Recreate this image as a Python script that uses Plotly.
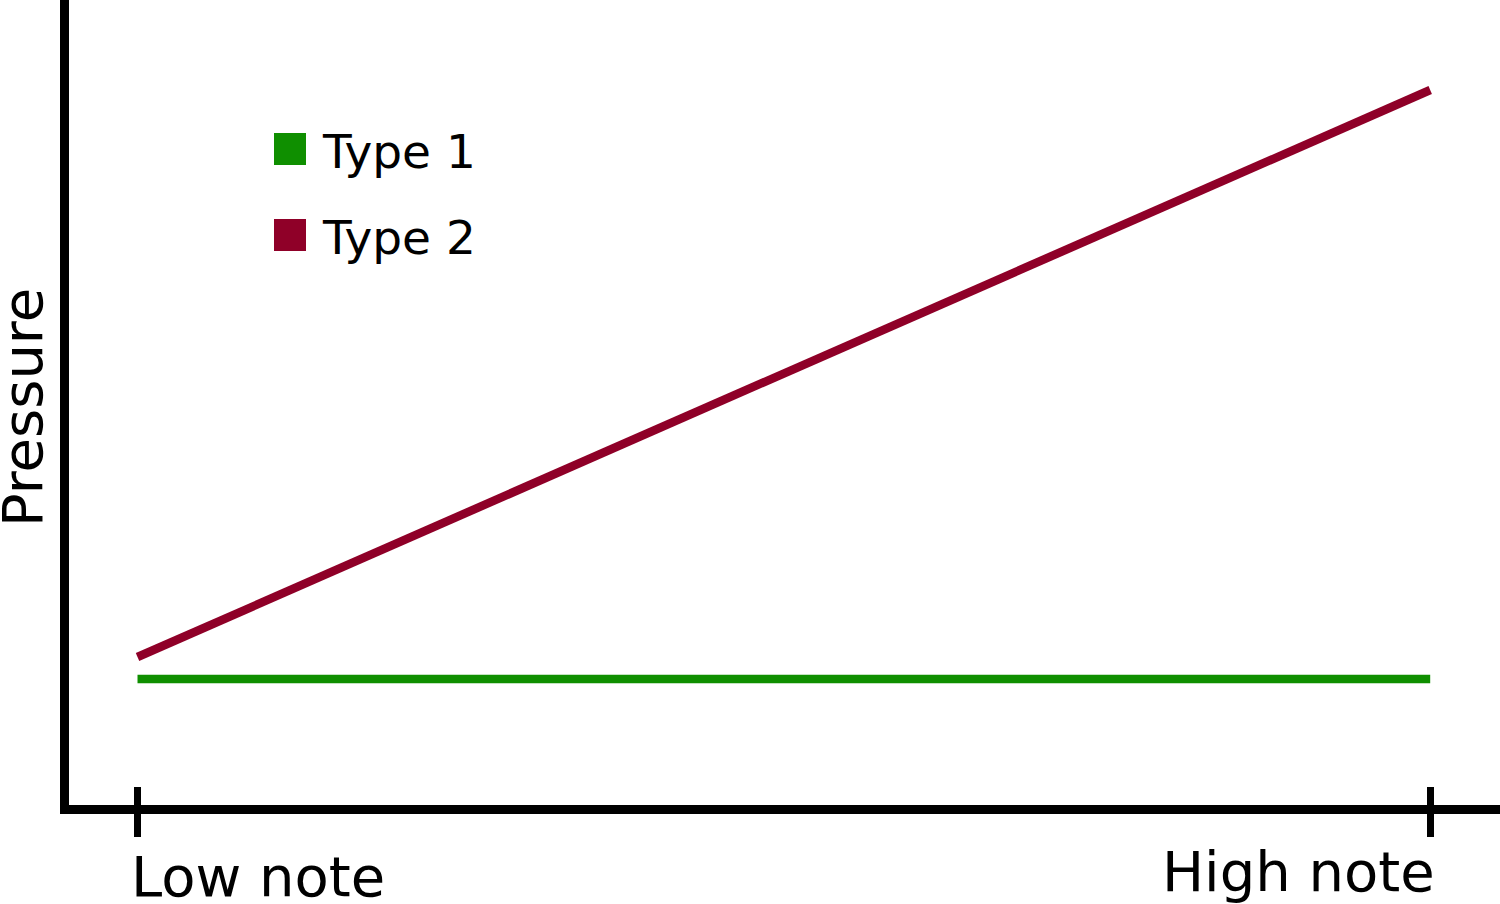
import plotly.graph_objects as go

# data
notes = ["Low note", "High note"]
note_pos = [0, 1]
series_names = ["Type 1", "Type 2"]
type1_pressure = [1.26, 1.26]
type2_pressure = [1.48, 7.15]
series_colors = ["#0f8f00", "#8f0028"]

W, H = 1500, 904
ML, MB = 69, 99
PW, PH = W - ML, H - MB
FONT = "DejaVu Sans"


def px_x(p):
    return (p - ML) / PW


def px_y(p):
    return (PH - p) / PH


fig = go.Figure()
# type 1 sits on the overlay axis so that axis (and its inner ticks) gets drawn
for name, vals, col, xa in zip(series_names, [type1_pressure, type2_pressure], series_colors, ["x2", "x"]):
    fig.add_trace(go.Scatter(x=note_pos, y=vals, mode="lines", name=name, xaxis=xa,
                             line=dict(color=col, width=8.5), showlegend=False))

# legend drawn by hand: big square swatches
for i, (name, col) in enumerate(zip(series_names, series_colors)):
    cy = 149 + 86 * i
    fig.add_shape(type="rect", xref="paper", yref="paper",
                  x0=px_x(274), x1=px_x(306), y0=px_y(cy - 16), y1=px_y(cy + 16),
                  fillcolor=col, line=dict(width=0))
    fig.add_annotation(text=name, xref="paper", yref="paper", x=px_x(320), y=px_y(cy + 3),
                       xanchor="left", yanchor="middle", showarrow=False,
                       font=dict(family=FONT, size=47, color="black"))

# tick labels: first left-aligned, last right-aligned
label_py = [876, 871]
label_anchor = ["left", "right"]
label_shift = [-9, 7]
for pos, txt, ly, anc, sh in zip(note_pos, notes, label_py, label_anchor, label_shift):
    fig.add_annotation(text=txt, x=pos, y=px_y(ly), xref="x", yref="paper", xanchor=anc,
                       yanchor="middle", xshift=sh, showarrow=False,
                       font=dict(family=FONT, size=56, color="black"))

fig.add_annotation(text="Pressure", textangle=-90, xref="paper", yref="paper",
                   x=px_x(22), y=px_y(408), xanchor="center", yanchor="middle",
                   showarrow=False, font=dict(family=FONT, size=56, color="black"))

xr = [-0.053, 1.054]
fig.update_layout(
    width=W, height=H,
    margin=dict(l=ML, r=0, t=0, b=MB, pad=0),
    paper_bgcolor="white", plot_bgcolor="white",
    font=dict(family=FONT, color="black"),
    showlegend=False,
    xaxis=dict(range=xr, showline=True, linewidth=9, linecolor="black",
               ticks="outside", tickvals=note_pos, ticklen=23, tickwidth=7, tickcolor="black",
               showticklabels=False, showgrid=False, zeroline=False, fixedrange=True),
    xaxis2=dict(range=xr, overlaying="x", side="bottom", showline=False,
                ticks="inside", tickvals=note_pos, ticklen=18, tickwidth=7, tickcolor="black",
                showticklabels=False, showgrid=False, zeroline=False, fixedrange=True),
    yaxis=dict(range=[0, 8.05], showline=True, linewidth=9, linecolor="black",
               ticks="", showticklabels=False, showgrid=False, zeroline=False, fixedrange=True),
)

fig.write_html("out.html", config={"displayModeBar": False},
               post_script="document.body.style.margin='0';")
